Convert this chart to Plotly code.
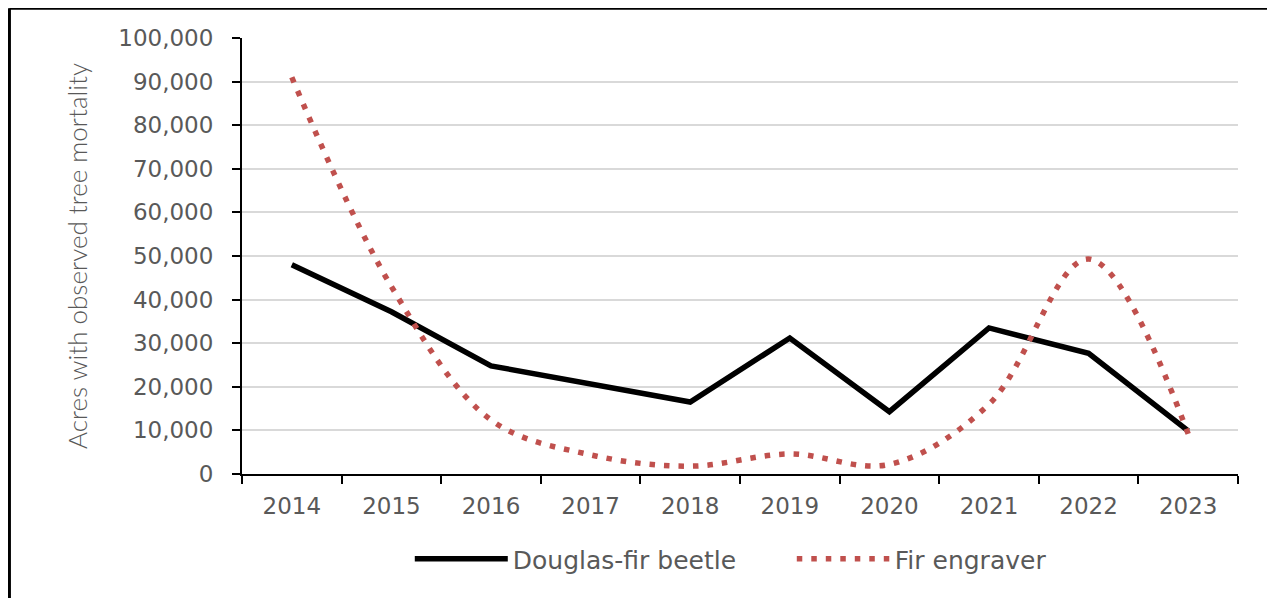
import plotly.graph_objects as go

years = ["2014", "2015", "2016", "2017", "2018", "2019", "2020", "2021", "2022", "2023"]
douglas_fir_beetle = [48000, 37200, 24800, 20600, 16500, 31200, 14300, 33500, 27700, 9900]
fir_engraver = [91000, 43000, 12400, 4400, 1800, 4600, 2200, 16000, 49300, 9200]
y_ticks = [0, 10000, 20000, 30000, 40000, 50000, 60000, 70000, 80000, 90000, 100000]
y_tick_labels = ["0", "10,000", "20,000", "30,000", "40,000", "50,000", "60,000",
                 "70,000", "80,000", "90,000", "100,000"]

TICK_FONT = "'DejaVu Sans', Verdana, sans-serif"
TITLE_FONT = "Lato, 'Open Sans', sans-serif"
GREY_TEXT = "#595959"

fig = go.Figure()
fig.add_trace(go.Scatter(
    x=years, y=douglas_fir_beetle, name="Douglas-fir beetle", mode="lines",
    line=dict(color="black", width=5.5),
))
fig.add_trace(go.Scatter(
    x=years, y=fir_engraver, name="Fir engraver", mode="lines",
    line=dict(color="#C0504D", width=5.5, dash="5.5px,9px", shape="spline", smoothing=1.0),
))

fig.update_layout(
    width=1275, height=598,
    margin=dict(l=234, r=45, t=30, b=132, autoexpand=False),
    paper_bgcolor="white", plot_bgcolor="white",
    font=dict(family=TICK_FONT, color=GREY_TEXT, size=23),
    showlegend=True,
    legend=dict(orientation="h", x=0.552, xanchor="center", y=-0.195, yanchor="middle",
                font=dict(size=25, color=GREY_TEXT, family=TICK_FONT), itemwidth=93,
                entrywidth=274, entrywidthmode="pixels",
                traceorder="normal", bgcolor="rgba(0,0,0,0)"),
    xaxis=dict(
        type="category", range=[-0.5, 9.5], showline=True, linecolor="black", linewidth=2,
        ticks="outside", tickson="boundaries", ticklen=8, tickwidth=2, tickcolor="black",
        showgrid=False, tickfont=dict(size=23, color=GREY_TEXT, family=TICK_FONT),
        ticklabelstandoff=10, automargin=False,
    ),
    yaxis=dict(
        range=[0, 100000], tickvals=y_ticks, ticktext=y_tick_labels,
        showline=True, linecolor="black", linewidth=2,
        ticks="outside", ticklen=8, tickwidth=2, tickcolor="black",
        showgrid=True, gridcolor="#D9D9D9", gridwidth=2,
        zeroline=False, tickfont=dict(size=23, color=GREY_TEXT, family=TICK_FONT),
        ticklabelstandoff=14, automargin=False,
        title=dict(text="Acres with observed tree mortality",
                   font=dict(size=26, color=GREY_TEXT, family=TITLE_FONT, weight=300),
                   standoff=23),
    ),
)

# outer frame of the original image (paper coordinates extended beyond plot area)
fig.add_shape(type="line", xref="paper", yref="paper", x0=-0.2335, x1=1.04, y0=1.068, y1=1.068,
              line=dict(color="black", width=3))
fig.add_shape(type="line", xref="paper", yref="paper", x0=-0.2335, x1=-0.2335, y0=1.068, y1=-0.35,
              line=dict(color="black", width=3))
fig.add_shape(type="line", xref="paper", yref="paper", x0=1.036, x1=1.036, y0=1.068, y1=-0.35,
              line=dict(color="#D9D9D9", width=2))

fig.write_html("out.html")
